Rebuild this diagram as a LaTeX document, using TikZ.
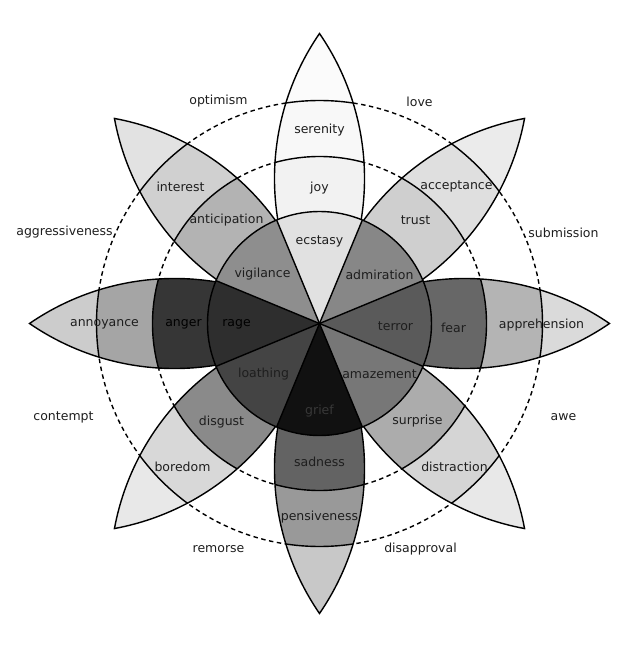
\documentclass[tikz,border=0pt]{standalone}
\usepackage{fontspec}
\setmainfont{DejaVu Sans}
\usepackage{tikz}
\usetikzlibrary{positioning}

% grey levels of the wheel
\definecolor{EcstasyGray}{HTML}{E1E1E1}
\definecolor{JoyGray}{HTML}{F2F2F2}
\definecolor{SerenityGray}{HTML}{F8F8F8}
\definecolor{JoyTip}{HTML}{FBFBFB}
\definecolor{AdmirationGray}{HTML}{878787}
\definecolor{TrustGray}{HTML}{CFCFCF}
\definecolor{AcceptanceGray}{HTML}{DFDFDF}
\definecolor{TrustTip}{HTML}{EBEBEB}
\definecolor{TerrorGray}{HTML}{5A5A5A}
\definecolor{FearGray}{HTML}{676767}
\definecolor{ApprehensionGray}{HTML}{B4B4B4}
\definecolor{FearTip}{HTML}{DADADA}
\definecolor{AmazementGray}{HTML}{777777}
\definecolor{SurpriseGray}{HTML}{ACACAC}
\definecolor{DistractionGray}{HTML}{D5D5D5}
\definecolor{SurpriseTip}{HTML}{E8E8E8}
\definecolor{GriefGray}{HTML}{111111}
\definecolor{SadnessGray}{HTML}{636363}
\definecolor{PensivenessGray}{HTML}{999999}
\definecolor{SadnessTip}{HTML}{C8C8C8}
\definecolor{LoathingGray}{HTML}{444444}
\definecolor{DisgustGray}{HTML}{8A8A8A}
\definecolor{BoredomGray}{HTML}{D8D8D8}
\definecolor{DisgustTip}{HTML}{E8E8E8}
\definecolor{RageGray}{HTML}{2E2E2E}
\definecolor{AngerGray}{HTML}{363636}
\definecolor{AnnoyanceGray}{HTML}{A5A5A5}
\definecolor{AngerTip}{HTML}{CCCCCC}
\definecolor{VigilanceGray}{HTML}{8E8E8E}
\definecolor{AnticipationGray}{HTML}{B3B3B3}
\definecolor{InterestGray}{HTML}{D0D0D0}
\definecolor{AnticipationTip}{HTML}{E2E2E2}
\definecolor{LabelGray}{HTML}{1E1E1E}

% one petal pointing up from the centre
\newcommand{\lens}{(0,0) arc[start angle=-34.5, end angle=34.5, radius=256pt]
  arc[start angle=145.5, end angle=214.5, radius=256pt] -- cycle}
\newcommand{\petal}[4]{%
  \begin{scope}[rotate=#1]
    \begin{scope}
      \clip \lens;
      \fill[#4] (0,0) circle[radius=300pt];
      \fill[#3] (0,0) circle[radius=223pt];
      \fill[#2] (0,0) circle[radius=167pt];
      \draw[edge] (0,0) circle[radius=167pt] (0,0) circle[radius=223pt];
    \end{scope}
    \draw[edge] \lens;
  \end{scope}}
\newcommand{\sector}[2]{%
  \fill[#2] (0,0) -- (#1-22.5:112pt) arc[start angle=#1-22.5, end angle=#1+22.5, radius=112pt] -- cycle;}

\begin{document}
\begin{tikzpicture}[
  x=1pt, y=1pt,
  edge/.style={draw=black, line width=1.4pt},
  ring/.style={draw=black, line width=1.4pt, dash pattern=on 4.5pt off 3.5pt},
  lbl/.style={font=\fontsize{12.5}{14}\selectfont, text=LabelGray, inner sep=0pt, yshift=-2pt},
]
\useasboundingbox (-319.5,-324.5) rectangle (319.5,323.5);

% dashed rings behind the petals
\draw[ring] (0,0) circle[radius=167pt];
\draw[ring] (0,0) circle[radius=223pt];

% petals
\petal{0}{JoyGray}{SerenityGray}{JoyTip}
\petal{-45}{TrustGray}{AcceptanceGray}{TrustTip}
\petal{-90}{FearGray}{ApprehensionGray}{FearTip}
\petal{-135}{SurpriseGray}{DistractionGray}{SurpriseTip}
\petal{180}{SadnessGray}{PensivenessGray}{SadnessTip}
\petal{135}{DisgustGray}{BoredomGray}{DisgustTip}
\petal{90}{AngerGray}{AnnoyanceGray}{AngerTip}
\petal{45}{AnticipationGray}{InterestGray}{AnticipationTip}

% inner circle
\sector{90}{EcstasyGray}
\sector{45}{AdmirationGray}
\sector{0}{TerrorGray}
\sector{-45}{AmazementGray}
\sector{-90}{GriefGray}
\sector{-135}{LoathingGray}
\sector{180}{RageGray}
\sector{135}{VigilanceGray}
\foreach \a in {22.5,67.5,...,337.5}
  \draw[edge] (0,0) -- (\a:112pt);
\draw[edge] (0,0) circle[radius=112pt];

% emotions
\node[lbl] (serenity) at (0,195) {serenity};
\node[lbl] (joy) at (0,137) {joy};
\node[lbl] (ecstasy) at (0,84) {ecstasy};
\node[lbl] (admiration) at (60,51) {admiration};
\node[lbl] (trust) at (96,105) {trust};
\node[lbl] (acceptance) at (137,139) {acceptance};
\node[lbl] (terror) at (76,-1) {terror};
\node[lbl] (fear) at (134,-2) {fear};
\node[lbl] (apprehension) at (222,0) {apprehension};
\node[lbl] (amazement) at (60,-49) {amazement};
\node[lbl] (surprise) at (98,-96) {surprise};
\node[lbl] (distraction) at (135,-141) {distraction};
\node[lbl, text=black!78] (grief) at (0,-86) {grief};
\node[lbl] (sadness) at (0,-136) {sadness};
\node[lbl] (pensiveness) at (0,-192) {pensiveness};
\node[lbl] (loathing) at (-56,-49) {loathing};
\node[lbl] (disgust) at (-98,-97) {disgust};
\node[lbl] (boredom) at (-137,-141) {boredom};
\node[lbl, text=black] (rage) at (-83,1) {rage};
\node[lbl, text=black] (anger) at (-136,1) {anger};
\node[lbl] (annoyance) at (-215,1) {annoyance};
\node[lbl] (vigilance) at (-57,51) {vigilance};
\node[lbl] (anticipation) at (-93,105) {anticipation};
\node[lbl] (interest) at (-139,139) {interest};

% dyads
\node[lbl] (optimism) at (-101,224) {optimism};
\node[lbl] (love) at (100,224) {love};
\node[lbl] (aggressiveness) at (-255,93) {aggressiveness};
\node[lbl] (submission) at (244,93) {submission};
\node[lbl] (contempt) at (-256,-92) {contempt};
\node[lbl] (awe) at (244,-92) {awe};
\node[lbl] (remorse) at (-101,-224) {remorse};
\node[lbl] (disapproval) at (101,-224) {disapproval};
\end{tikzpicture}
\end{document}
